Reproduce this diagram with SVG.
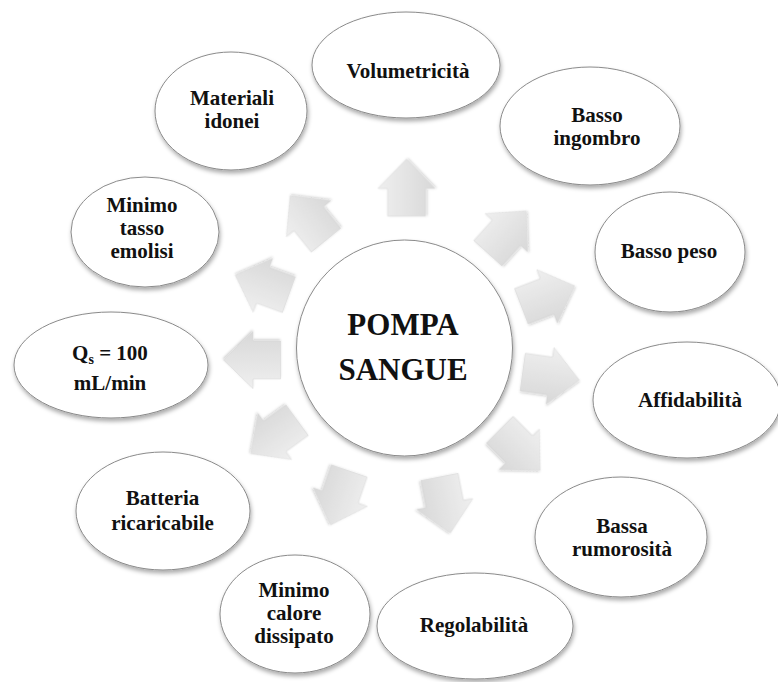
<svg xmlns="http://www.w3.org/2000/svg" width="778" height="682" viewBox="0 0 778 682">
  <defs>
    <filter id="soft-shadow" x="-20%" y="-20%" width="140%" height="150%">
      <feDropShadow dx="1" dy="3" stdDeviation="2" flood-color="#000" flood-opacity="0.33"/>
    </filter>
    <filter id="arrow-shadow" x="-30%" y="-30%" width="160%" height="160%">
      <feDropShadow dx="0.5" dy="1.5" stdDeviation="1" flood-color="#000" flood-opacity="0.2"/>
    </filter>
    <linearGradient id="arrow-fill" x1="0" y1="0" x2="0" y2="1">
      <stop offset="0" stop-color="#efefef"/>
      <stop offset="1" stop-color="#d8d8d8"/>
    </linearGradient>
    <!-- block arrow pointing along +x, centred on the origin -->
    <path id="block-arrow" d="M-28.5,-19 L-1,-19 L-1,-28.5 L28.5,0 L-1,28.5 L-1,19 L-28.5,19 Z"/>
  </defs>
  <style>
    .node ellipse, .node circle { fill: #ffffff; stroke: #8a8a8a; stroke-width: 1; filter: url(#soft-shadow); }
    .node text { font-family: "Liberation Serif", "Times New Roman", serif; font-weight: bold; font-size: 21px; fill: #111111; text-anchor: middle; }
    #hub text { font-size: 31px; }
    .connectors use { fill: url(#arrow-fill); stroke: #d4d4d4; stroke-width: 0.5; filter: url(#arrow-shadow); }
  </style>

  <rect width="778" height="682" fill="#ffffff"/>

  <!-- radial arrows from the hub towards each requirement -->
  <g id="connectors" class="connectors">
    <use href="#block-arrow" transform="translate(406.5,187.5) rotate(-90)"/>
    <use href="#block-arrow" transform="translate(507,232) rotate(-48)"/>
    <use href="#block-arrow" transform="translate(548,296) rotate(-21)"/>
    <use href="#block-arrow" transform="translate(551,376) rotate(8)"/>
    <use href="#block-arrow" transform="translate(520,450) rotate(45)"/>
    <use href="#block-arrow" transform="translate(445,505) rotate(79)"/>
    <use href="#block-arrow" transform="translate(340,498) rotate(109)"/>
    <use href="#block-arrow" transform="translate(274,437) rotate(144)"/>
    <use href="#block-arrow" transform="translate(252,360) rotate(180)"/>
    <use href="#block-arrow" transform="translate(262,285) rotate(-160)"/>
    <use href="#block-arrow" transform="translate(308,218) rotate(-129)"/>
  </g>

  <!-- central node -->
  <g id="hub" class="node">
    <circle cx="404.5" cy="348" r="108"/>
    <text x="403" y="335">POMPA</text>
    <text x="403" y="380">SANGUE</text>
  </g>

  <!-- requirement nodes -->
  <g id="volumetricita" class="node">
    <ellipse cx="406" cy="65" rx="94" ry="53"/>
    <text x="408" y="78">Volumetricità</text>
  </g>

  <g id="basso-ingombro" class="node">
    <ellipse cx="590" cy="126" rx="90" ry="59"/>
    <text x="597" y="122">Basso</text>
    <text x="597" y="145">ingombro</text>
  </g>

  <g id="basso-peso" class="node">
    <ellipse cx="670" cy="252" rx="75" ry="60"/>
    <text x="669" y="258">Basso peso</text>
  </g>

  <g id="affidabilita" class="node">
    <ellipse cx="687" cy="400" rx="94" ry="58"/>
    <text x="690" y="407">Affidabilità</text>
  </g>

  <g id="bassa-rumorosita" class="node">
    <ellipse cx="621" cy="537" rx="86" ry="60"/>
    <text x="622" y="533">Bassa</text>
    <text x="622" y="556">rumorosità</text>
  </g>

  <g id="regolabilita" class="node">
    <ellipse cx="475" cy="626" rx="98" ry="53"/>
    <text x="474" y="632">Regolabilità</text>
  </g>

  <g id="minimo-calore" class="node">
    <ellipse cx="295" cy="614" rx="75" ry="59"/>
    <text x="294" y="597">Minimo</text>
    <text x="294" y="620">calore</text>
    <text x="294" y="643">dissipato</text>
  </g>

  <g id="batteria" class="node">
    <ellipse cx="163" cy="511" rx="87" ry="59"/>
    <text x="162.5" y="505">Batteria</text>
    <text x="162.5" y="530">ricaricabile</text>
  </g>

  <g id="portata" class="node">
    <ellipse cx="111" cy="365" rx="97" ry="53"/>
    <text x="110" y="360">Q<tspan font-size="14" dy="4">s</tspan><tspan dy="-4"> = 100</tspan></text>
    <text x="110" y="390">mL/min</text>
  </g>

  <g id="emolisi" class="node">
    <ellipse cx="145" cy="232" rx="74" ry="55"/>
    <text x="142" y="212">Minimo</text>
    <text x="142" y="235">tasso</text>
    <text x="142" y="258">emolisi</text>
  </g>

  <g id="materiali" class="node">
    <ellipse cx="231" cy="111" rx="76" ry="59"/>
    <text x="232" y="105">Materiali</text>
    <text x="232" y="128">idonei</text>
  </g>
</svg>
